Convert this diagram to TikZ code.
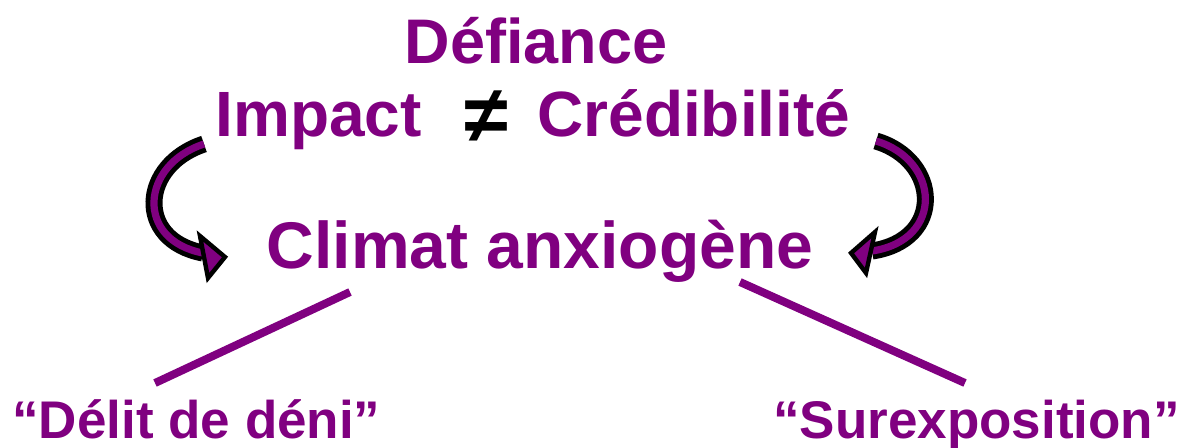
\documentclass[tikz,border=0pt]{standalone}
\usepackage{fontspec}
\setmainfont{Liberation Sans}
\definecolor{plum}{HTML}{800080}
\begin{document}
\begin{tikzpicture}[x=0.5pt,y=-0.5pt,
  lbl/.style={inner sep=0pt,text=plum,font=\bfseries},
  big/.style={lbl,font=\fontsize{32}{36}\selectfont\bfseries},
  small/.style={lbl,font=\fontsize{26.5}{30}\selectfont\bfseries},
  link/.style={draw=plum,line width=4pt},
  shaftout/.style={draw=black,line width=8.5pt},
  shaftin/.style={draw=plum,line width=3.6pt},
  head/.style={fill=plum,draw=black,line width=2.2pt,line join=miter}]
\useasboundingbox (0,0) rectangle (1183,447);
\node[big,anchor=base,font=\fontsize{31.5}{36}\selectfont\bfseries] (def) at (536,63) {Défiance};
\node[big,anchor=base west] (imp) at (215,136) {Impact};
\node[inner sep=0pt,anchor=center,font=\fontsize{40}{44}\selectfont\bfseries] (neq) at (486,117) {≠};
\node[big,anchor=base west] (cred) at (537,136) {Crédibilité};
\node[big,anchor=base,font=\fontsize{33}{36}\selectfont\bfseries] (clim) at (540,268) {Climat anxiogène};
\node[small,anchor=base west] (deni) at (12,438) {“Délit de déni”};
\node[small,anchor=base west] (surex) at (773,438) {“Surexposition”};
% links
\coordinate (l1) at (350,292); \coordinate (l2) at (155,383);
\coordinate (r1) at (740,282); \coordinate (r2) at (965,383);
\draw[link] (l1) -- (l2);
\draw[link] (r1) -- (r2);
% left curved arrow
\coordinate (la) at (204,144); \coordinate (lb) at (203,253);
\draw[shaftout] (la) .. controls (140,165) and (135,240) .. (lb);
\draw[shaftin] (la) .. controls (140,165) and (135,240) .. (lb);
\draw[head] (200,236) -- (225,257) -- (208,278) -- cycle;
% right curved arrow
\coordinate (ra) at (876,141); \coordinate (rb) at (872,251);
\draw[shaftout] (ra) .. controls (940,160) and (945,240) .. (rb);
\draw[shaftin] (ra) .. controls (940,160) and (945,240) .. (rb);
\draw[head] (875,232) -- (851,253) -- (866,273) -- cycle;
\end{tikzpicture}
\end{document}
